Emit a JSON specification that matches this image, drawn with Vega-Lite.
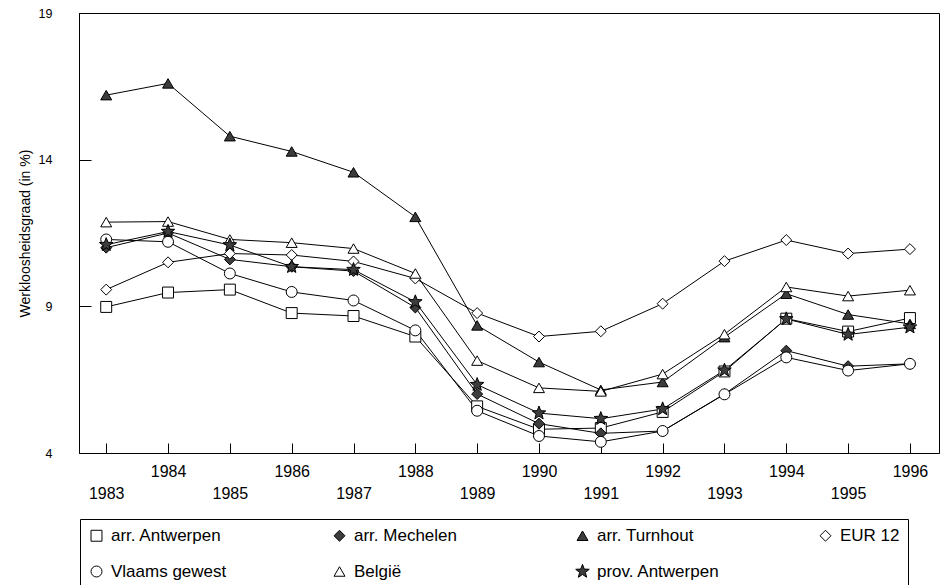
{
  "$schema": "https://vega.github.io/schema/vega-lite/v6.json",
  "width": 860,
  "height": 440,
  "autosize": {"type": "none"},
  "padding": {"left": 79, "top": 13, "right": 4, "bottom": 132},
  "background": "white",
  "config": {
    "view": {"stroke": "black", "strokeWidth": 1},
    "font": "Liberation Sans",
    "axis": {"domainColor": "black", "tickColor": "black", "labelColor": "black", "titleColor": "black", "grid": false},
    "legend": {
      "orient": "none", "legendX": 1, "legendY": 506,
      "columns": 4, "direction": "horizontal", "gridAlign": "all",
      "columnPadding": 96, "rowPadding": 18, "padding": 8,
      "strokeColor": "black", "strokeWidth": 1,
      "labelFontSize": 17, "labelFont": "Liberation Sans", "labelColor": "black",
      "labelOffset": 6, "symbolSize": 120, "symbolStrokeWidth": 1,
      "labelLimit": 300
    }
  },
  "data": {"values": [
    {"series": "arr. Antwerpen", "year": 1983, "value": 8.98},
    {"series": "arr. Antwerpen", "year": 1984, "value": 9.47},
    {"series": "arr. Antwerpen", "year": 1985, "value": 9.57},
    {"series": "arr. Antwerpen", "year": 1986, "value": 8.77},
    {"series": "arr. Antwerpen", "year": 1987, "value": 8.67},
    {"series": "arr. Antwerpen", "year": 1988, "value": 7.97},
    {"series": "arr. Antwerpen", "year": 1989, "value": 5.59},
    {"series": "arr. Antwerpen", "year": 1990, "value": 4.81},
    {"series": "arr. Antwerpen", "year": 1991, "value": 4.85},
    {"series": "arr. Antwerpen", "year": 1992, "value": 5.40},
    {"series": "arr. Antwerpen", "year": 1993, "value": 6.78},
    {"series": "arr. Antwerpen", "year": 1994, "value": 8.58},
    {"series": "arr. Antwerpen", "year": 1995, "value": 8.14},
    {"series": "arr. Antwerpen", "year": 1996, "value": 8.60},
    {"series": "arr. Mechelen", "year": 1983, "value": 11.0},
    {"series": "arr. Mechelen", "year": 1984, "value": 11.5},
    {"series": "arr. Mechelen", "year": 1985, "value": 10.6},
    {"series": "arr. Mechelen", "year": 1986, "value": 10.35},
    {"series": "arr. Mechelen", "year": 1987, "value": 10.2},
    {"series": "arr. Mechelen", "year": 1988, "value": 8.96},
    {"series": "arr. Mechelen", "year": 1989, "value": 6.01},
    {"series": "arr. Mechelen", "year": 1990, "value": 5.0},
    {"series": "arr. Mechelen", "year": 1991, "value": 4.67},
    {"series": "arr. Mechelen", "year": 1992, "value": 4.75},
    {"series": "arr. Mechelen", "year": 1993, "value": 6.01},
    {"series": "arr. Mechelen", "year": 1994, "value": 7.49},
    {"series": "arr. Mechelen", "year": 1995, "value": 6.96},
    {"series": "arr. Mechelen", "year": 1996, "value": 7.04},
    {"series": "arr. Turnhout", "year": 1983, "value": 16.2},
    {"series": "arr. Turnhout", "year": 1984, "value": 16.6},
    {"series": "arr. Turnhout", "year": 1985, "value": 14.8},
    {"series": "arr. Turnhout", "year": 1986, "value": 14.28},
    {"series": "arr. Turnhout", "year": 1987, "value": 13.57},
    {"series": "arr. Turnhout", "year": 1988, "value": 12.05},
    {"series": "arr. Turnhout", "year": 1989, "value": 8.35},
    {"series": "arr. Turnhout", "year": 1990, "value": 7.1},
    {"series": "arr. Turnhout", "year": 1991, "value": 6.15},
    {"series": "arr. Turnhout", "year": 1992, "value": 6.42},
    {"series": "arr. Turnhout", "year": 1993, "value": 7.95},
    {"series": "arr. Turnhout", "year": 1994, "value": 9.43},
    {"series": "arr. Turnhout", "year": 1995, "value": 8.72},
    {"series": "arr. Turnhout", "year": 1996, "value": 8.4},
    {"series": "EUR 12", "year": 1983, "value": 9.57},
    {"series": "EUR 12", "year": 1984, "value": 10.5},
    {"series": "EUR 12", "year": 1985, "value": 10.8},
    {"series": "EUR 12", "year": 1986, "value": 10.75},
    {"series": "EUR 12", "year": 1987, "value": 10.53},
    {"series": "EUR 12", "year": 1988, "value": 9.95},
    {"series": "EUR 12", "year": 1989, "value": 8.77},
    {"series": "EUR 12", "year": 1990, "value": 7.97},
    {"series": "EUR 12", "year": 1991, "value": 8.15},
    {"series": "EUR 12", "year": 1992, "value": 9.09},
    {"series": "EUR 12", "year": 1993, "value": 10.54},
    {"series": "EUR 12", "year": 1994, "value": 11.26},
    {"series": "EUR 12", "year": 1995, "value": 10.8},
    {"series": "EUR 12", "year": 1996, "value": 10.95},
    {"series": "Vlaams gewest", "year": 1983, "value": 11.28},
    {"series": "Vlaams gewest", "year": 1984, "value": 11.2},
    {"series": "Vlaams gewest", "year": 1985, "value": 10.12},
    {"series": "Vlaams gewest", "year": 1986, "value": 9.49},
    {"series": "Vlaams gewest", "year": 1987, "value": 9.2},
    {"series": "Vlaams gewest", "year": 1988, "value": 8.18},
    {"series": "Vlaams gewest", "year": 1989, "value": 5.44},
    {"series": "Vlaams gewest", "year": 1990, "value": 4.58},
    {"series": "Vlaams gewest", "year": 1991, "value": 4.38},
    {"series": "Vlaams gewest", "year": 1992, "value": 4.75},
    {"series": "Vlaams gewest", "year": 1993, "value": 6.0},
    {"series": "Vlaams gewest", "year": 1994, "value": 7.26},
    {"series": "Vlaams gewest", "year": 1995, "value": 6.81},
    {"series": "Vlaams gewest", "year": 1996, "value": 7.04},
    {"series": "België", "year": 1983, "value": 11.87},
    {"series": "België", "year": 1984, "value": 11.89},
    {"series": "België", "year": 1985, "value": 11.28},
    {"series": "België", "year": 1986, "value": 11.17},
    {"series": "België", "year": 1987, "value": 10.97},
    {"series": "België", "year": 1988, "value": 10.12},
    {"series": "België", "year": 1989, "value": 7.15},
    {"series": "België", "year": 1990, "value": 6.22},
    {"series": "België", "year": 1991, "value": 6.1},
    {"series": "België", "year": 1992, "value": 6.69},
    {"series": "België", "year": 1993, "value": 8.05},
    {"series": "België", "year": 1994, "value": 9.66},
    {"series": "België", "year": 1995, "value": 9.35},
    {"series": "België", "year": 1996, "value": 9.55},
    {"series": "prov. Antwerpen", "year": 1983, "value": 11.1},
    {"series": "prov. Antwerpen", "year": 1984, "value": 11.55},
    {"series": "prov. Antwerpen", "year": 1985, "value": 11.09},
    {"series": "prov. Antwerpen", "year": 1986, "value": 10.35},
    {"series": "prov. Antwerpen", "year": 1987, "value": 10.25},
    {"series": "prov. Antwerpen", "year": 1988, "value": 9.15},
    {"series": "prov. Antwerpen", "year": 1989, "value": 6.33},
    {"series": "prov. Antwerpen", "year": 1990, "value": 5.36},
    {"series": "prov. Antwerpen", "year": 1991, "value": 5.17},
    {"series": "prov. Antwerpen", "year": 1992, "value": 5.5},
    {"series": "prov. Antwerpen", "year": 1993, "value": 6.82},
    {"series": "prov. Antwerpen", "year": 1994, "value": 8.57},
    {"series": "prov. Antwerpen", "year": 1995, "value": 8.04},
    {"series": "prov. Antwerpen", "year": 1996, "value": 8.29}
  ]},
  "encoding": {
    "x": {
      "field": "year", "type": "quantitative",
      "scale": {"domain": [1982.56, 1996.47], "nice": false, "zero": false},
      "axis": {
        "title": null, "values": [1983,1984,1985,1986,1987,1988,1989,1990,1991,1992,1993,1994,1995,1996],
        "format": "d", "labelExpr": "datum.value % 2 == 0 ? [datum.label] : ['', datum.label]",
        "labelLineHeight": 22, "labelBaseline": "top", "labelFontSize": 16,
        "labelPadding": 20, "tickSize": -10, "labelOverlap": false, "labelFlush": false, "labelBound": false
      }
    },
    "y": {
      "field": "value", "type": "quantitative",
      "scale": {"domain": [4, 19], "nice": false, "zero": false},
      "axis": {
        "title": "Werkloosheidsgraad (in %)", "titleFontSize": 14, "titleFontWeight": "normal",
        "values": [4, 9, 14, 19], "labelFontSize": 12.5, "labelPadding": 39, "tickSize": -12,
        "titlePadding": 6, "labelOverlap": false, "labelFlush": false
      }
    }
  },
  "layer": [
    {
      "mark": {"type": "line", "color": "black", "strokeWidth": 1},
      "encoding": {"detail": {"field": "series"}, "order": {"field": "year"}}
    },
    {
      "mark": {"type": "point", "filled": true, "strokeWidth": 1, "size": 120, "opacity": 1},
      "encoding": {
        "shape": {
          "field": "series", "type": "nominal",
          "scale": {
            "domain": ["arr. Antwerpen", "arr. Mechelen", "arr. Turnhout", "EUR 12", "Vlaams gewest", "België", "prov. Antwerpen"],
            "range": ["square", "diamond", "triangle-up", "diamond", "circle", "triangle-up", "M0,-1.3L0.323,-0.445L1.236,-0.402L0.523,0.17L0.764,1.052L0,0.55L-0.764,1.052L-0.523,0.17L-1.236,-0.402L-0.323,-0.445Z"]
          },
          "legend": {"title": null}
        },
        "fill": {
          "field": "series", "type": "nominal",
          "scale": {
            "domain": ["arr. Antwerpen", "arr. Mechelen", "arr. Turnhout", "EUR 12", "Vlaams gewest", "België", "prov. Antwerpen"],
            "range": ["white", "#3c3c3c", "#3c3c3c", "white", "white", "white", "#3c3c3c"]
          },
          "legend": {"title": null}
        },
        "stroke": {
          "field": "series", "type": "nominal",
          "scale": {
            "domain": ["arr. Antwerpen", "arr. Mechelen", "arr. Turnhout", "EUR 12", "Vlaams gewest", "België", "prov. Antwerpen"],
            "range": ["black", "black", "black", "black", "black", "black", "black"]
          },
          "legend": {"title": null}
        }
      }
    }
  ]
}
